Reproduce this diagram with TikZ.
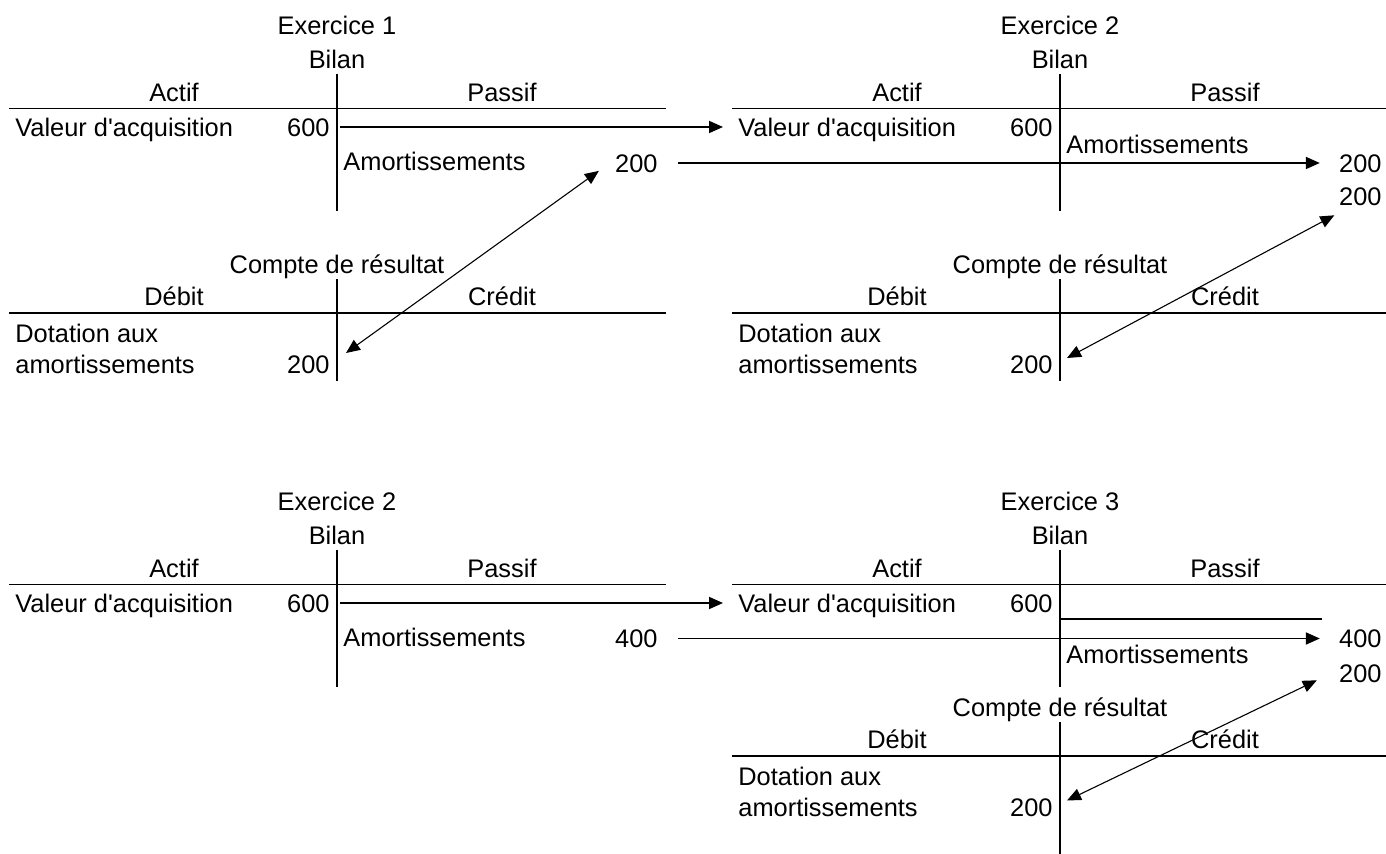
\documentclass[tikz,border=0pt]{standalone}
\usepackage{fontspec}
\setmainfont{Liberation Sans}
\usetikzlibrary{arrows.meta}

\begin{document}
\begin{tikzpicture}[x=0.5pt, y=-0.5pt,
    every node/.style={inner sep=0pt, text height=9.5pt, text depth=0.4pt, font=\fontsize{12.7}{15}\selectfont},
    rule/.style={line width=0.9pt},
    flow/.style={line width=0.9pt, -{Triangle[length=7pt, width=6pt]}},
    link/.style={line width=0.55pt, {Triangle[length=7pt, width=6pt]}-{Triangle[length=7pt, width=6pt]}}]
    \useasboundingbox (0,0) rectangle (1386,854);
    % bilans
    \foreach \p/\ox/\oy/\n in {a/0/0/1, b/723/0/2, c/0/476/2, d/723/476/3} {
        \begin{scope}[shift={(\ox,\oy)}]
            \node (ex\p) at (337,25) {Exercice \n};
            \node (bil\p) at (337,59) {Bilan};
            \node (act\p) at (174,92) {Actif};
            \node (pas\p) at (502,92) {Passif};
            \node[anchor=west] (val\p) at (15,127) {Valeur d\textquotesingle acquisition};
            \node[anchor=east] (six\p) at (330,127) {600};
            \draw[rule] (337,74) -- (337,211);
            \draw[rule] (9,108.5) -- (666,108.5);
        \end{scope}
    }
    % comptes de resultat
    \foreach \p/\ox/\oy/\yend in {a/0/0/381, b/723/0/381, d/723/443/411} {
        \begin{scope}[shift={(\ox,\oy)}]
            \node (cr\p) at (337,264) {Compte de résultat};
            \node (deb\p) at (174,296) {Débit};
            \node (cre\p) at (502,296) {Crédit};
            \node[anchor=west] (dot\p) at (15,333) {Dotation aux};
            \node[anchor=west] (dam\p) at (15,364.5) {amortissements};
            \node[anchor=east] (dv\p) at (330,364.5) {200};
            \draw[rule] (337,279) -- (337,\yend);
            \draw[rule] (9,313) -- (666,313);
        \end{scope}
    }
    % amortissements
    \node[anchor=west] (amoa) at (343,161) {Amortissements};
    \node[anchor=east] (amta) at (658,163) {200};
    \node[anchor=west] (amob) at (1066,144) {Amortissements};
    \node[anchor=east] (amtb) at (1382,163) {200};
    \node[anchor=east] (mvb) at (1382,196) {200};
    \node[anchor=west] (amoc) at (343,637) {Amortissements};
    \node[anchor=east] (amtc) at (658,638.5) {400};
    \node[anchor=east] (amtd) at (1382,638.5) {400};
    \node[anchor=west] (amod) at (1066,654) {Amortissements};
    \node[anchor=east] (mvd) at (1382,673) {200};
    \draw[rule] (1060,619) -- (1322,619);
    % reports
    \draw[flow] ([xshift=5pt]sixa.east) -- ([xshift=-7.5pt]valb.west);
    \draw[flow] ([xshift=5pt]sixc.east) -- ([xshift=-7.5pt]vald.west);
    \draw[flow] ([xshift=10pt]amta.east) -- ([xshift=-9.5pt]amtb.west);
    \draw[flow] ([xshift=10pt]amtc.east) -- ([xshift=-9.5pt]amtd.west);
    \draw[link] ([xshift=8pt,yshift=5.75pt]dva.east) -- ([xshift=-8pt,yshift=1.2pt]amta.south west);
    \draw[link] ([xshift=7pt,yshift=3.25pt]dvb.east) -- ([xshift=-2.25pt,yshift=-4.5pt]mvb.south west);
    \draw[link] ([xshift=7pt,yshift=3.5pt]dvd.east) -- ([xshift=-11pt,yshift=1.5pt]mvd.south west);
\end{tikzpicture}
\end{document}
